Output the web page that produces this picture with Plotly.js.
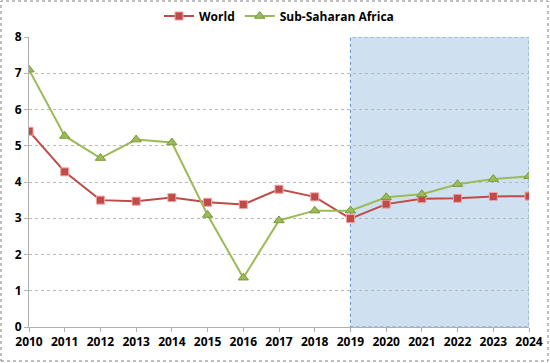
<!DOCTYPE html>
<html><head><meta charset="utf-8">
<script src="https://cdn.plot.ly/plotly-3.0.1.min.js"></script>
<style>html,body{margin:0;padding:0;background:#fff}#c{width:550px;height:363px}</style>
</head><body><div id="c"></div>
<script>
const years = [2010,2011,2012,2013,2014,2015,2016,2017,2018,2019,2020,2021,2022,2023,2024];
const world = [5.4,4.28,3.5,3.47,3.57,3.44,3.38,3.8,3.59,2.99,3.39,3.54,3.55,3.6,3.61];
const ssa = [7.1,5.27,4.66,5.17,5.09,3.09,1.36,2.94,3.21,3.21,3.58,3.66,3.94,4.08,4.16];
const yTicks = [0,1,2,3,4,5,6,7,8];
const forecastStart = 2019, forecastEnd = 2024;
const fnt = {family:'"Open Sans", "Liberation Sans", sans-serif', size:12, color:'#000', weight:700};
const data = [
 {x:years, y:world, name:'World', mode:'lines+markers', type:'scatter',
  line:{color:'#be4b48', width:2}, marker:{symbol:'square', size:8, color:'#be4b48', line:{color:'#f2a0a0', width:1}}},
 {x:years, y:ssa, name:'Sub-Saharan Africa', mode:'lines+markers', type:'scatter',
  line:{color:'#9bbb59', width:2}, marker:{symbol:'triangle-up', size:9, color:'#9bbb59', line:{color:'#7a9a3a', width:1}}}
];
const layout = {
 width:550, height:363, paper_bgcolor:'#fff', plot_bgcolor:'#fff',
 margin:{l:29, r:21, t:37, b:36, autoexpand:false},
 font:fnt, showlegend:true,
 legend:{orientation:'h', x:0.5, xanchor:'center', y:1+21/290, yanchor:'middle', font:fnt, itemwidth:30},
 xaxis:{range:[2010,2024], tickvals:years, ticktext:years.map(String), showgrid:false, zeroline:false,
   showline:true, linecolor:'#b0b0b0', ticks:'outside', ticklen:4, tickcolor:'#b0b0b0', tickfont:fnt, automargin:false},
 yaxis:{range:[0,8], tickvals:yTicks, showgrid:true, gridcolor:'#b8b8b8', griddash:'dot', zeroline:false,
   showline:true, linecolor:'#b0b0b0', ticks:'outside', ticklen:4, tickcolor:'#b0b0b0', tickfont:fnt, automargin:false},
 shapes:[
  {type:'rect', xref:'x', yref:'y', x0:forecastStart, x1:forecastEnd, y0:0, y1:8, layer:'below',
   fillcolor:'rgba(160,195,225,0.5)', line:{color:'#5b8fd0', width:1, dash:'dot'}},
  {type:'rect', xref:'paper', yref:'paper', x0:-28/500, x1:1+19/500, y0:-34/290, y1:1+36/290,
   line:{color:'#808080', width:1, dash:'dot'}, fillcolor:'rgba(0,0,0,0)'}
 ]
};
Plotly.newPlot('c', data, layout, {displayModeBar:false, staticPlot:true});
</script></body></html>
